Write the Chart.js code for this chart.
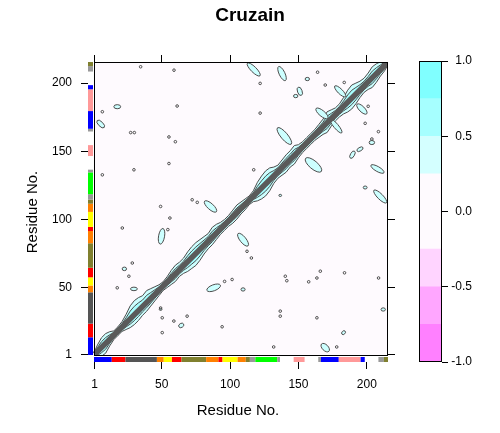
<!DOCTYPE html>
<html><head><meta charset="utf-8">
<script src="https://cdn.jsdelivr.net/npm/chart.js@4.4.1/dist/chart.umd.min.js"></script>
<style>
html,body{margin:0;padding:0;background:#fff;}
#wrap{position:relative;width:500px;height:433px;}
#wrap canvas{position:absolute;left:0;top:0;}
</style></head><body>
<div id="wrap"><canvas id="main" width="500" height="433"></canvas><canvas id="key" width="500" height="433"></canvas></div>
<script>
// ---------------- data ----------------
const chartTitle = 'Cruzain';
const axisTitle = 'Residue No.';
const nResidues = 215;
const tickLabels = [1, 50, 100, 150, 200];

// colour key (correlation bands)
const keyEdges = [-1, -0.75, -0.5, -0.25, 0.25, 0.5, 0.75, 1];
const keyTicks = [-1, -0.5, 0, 0.5, 1];

// sequence annotation segments (residue ranges)
const segStart = [1, 14, 24, 47, 52, 58, 65, 83, 92, 95, 106, 112, 115, 119, 135, 147, 165, 167, 180, 196, 209, 213];
const segEnd   = [13, 23, 46, 51, 57, 64, 82, 91, 94, 105, 111, 114, 118, 134, 136, 154, 166, 179, 195, 198, 212, 215];
const segClass = ['blue','red','dark','orange','yellow','red','olive','orange','red','yellow','orange','olive','grey','green','grey','pink','grey','blue','pink','blue','grey','olive'];

// correlated band along the diagonal: residue, extent above / below (residues)
const diagPos = [1,3,6,9,12,15,18,21,24,27,30,33,36,39,42,45,48,51,54,57,60,63,66,69,72,75,78,81,84,87,90,93,96,99,102,105,108,111,114,117,120,123,126,129,132,135,138,141,144,147,150,153,156,159,162,165,168,171,174,177,180,183,186,189,192,195,198,201,204,207,210,213,215];
const diagUp  = [2.4,4.8,7.2,7.2,5.6,3.2,3.2,4,6.4,9.6,10.4,9.6,8,8.8,7.2,5.6,4,3.2,4,5.6,6.4,5.6,5.6,7.2,8,8,7.2,6.4,5.6,7.2,6.4,4.8,4,4,4.8,5.6,4.8,4,3.2,4,7.2,8.8,9.6,8.8,6.4,4.8,5.6,6.4,6.4,7.2,4.8,4,4,4,4,4.8,5.6,8,6.4,4.8,4.8,6.4,8.8,9.6,8,6.4,5.6,6.4,8,7.2,5.6,4,2.4];
const diagLo  = [2.4,4.8,6.4,7.2,4.8,3.2,3.2,3.2,4.8,6.4,7.2,7.2,6.4,6.4,5.6,4.8,4,3.2,4,4.8,5.6,4.8,5.6,7.2,8,8.8,8,6.4,5.6,5.6,4.8,4,4,4,4.8,4.8,4,4,3.2,4,6.4,8,8.8,8,5.6,4.8,5.6,6.4,5.6,6.4,4.8,4,4,4,4,4.8,5.6,7.2,5.6,4.8,4.8,5.6,7.2,8,7.2,5.6,4.8,5.6,7.2,6.4,4.8,4,2.4];

// off-diagonal correlated patches: residue i, residue j, half-length, half-width (residues), orientation (deg)
const blobI   = [117.3, 138, 151, 148, 156.5, 180.5, 196.4, 167.2, 177.5, 139.7, 161, 209.8, 207.8, 189.5, 195, 203.7, 85.7, 49.9, 109.5, 88, 109.5, 22.7, 29.7, 64.3, 169.6, 183, 212, 5.4, 17.5, 198.8, 136.7, 49.2];
const blobJ   = [210, 207, 194, 190.5, 203, 194, 181, 177.8, 168.5, 161.2, 140, 116.8, 137, 147.5, 151.5, 156.4, 109.5, 87.6, 85.1, 49.8, 48.6, 63.7, 49, 22.2, 5.9, 16.9, 33.9, 170, 182.7, 123.4, 117.6, 34];
const blobLen = [6.5, 5.7, 3.2, 1.6, 1.6, 5.5, 5, 5.6, 6.5, 7.8, 7.5, 6.5, 5.5, 3, 2.5, 2, 5.8, 5.8, 5.8, 5.3, 1.5, 1.6, 2.5, 2, 3.8, 1.6, 1.6, 3.6, 2.5, 1.4, 1, 1];
const blobWid = [2.0, 2.1, 1.7, 1.2, 1.2, 1.8, 2.0, 2.1, 1.7, 2.5, 3.0, 2.0, 1.8, 1.5, 1.3, 1.5, 2.2, 2.2, 2.2, 2.2, 1.2, 1.3, 1.3, 1.5, 2.2, 1.2, 1.2, 1.7, 1.5, 1.1, 0.8, 0.8];
const blobAng = [-45, -64, -70, 0, 0, -45, -45, -40, -50, -50, -40, -45, -30, 60, 30, 0, -42, 80, -51, 21, 0, 0, 0, 30, -45, 45, 0, -45, 0, 0, 0, 0];

// small isolated contour specks (residue i, residue j)
const speckI = [34.6, 59, 61.3, 6.6, 27.3, 30, 55.3, 60, 55.3, 29.7, 6.6, 117.3, 122, 164, 169.6, 183.5, 201, 198.8, 208.5, 203.7, 72.3, 76, 49.2, 56, 21.2, 54.5, 112.4, 115.6, 28.5, 26, 17.5, 101.5, 96, 140.4, 141.5, 157.5, 163.5, 166, 183.7, 208.6, 136.7, 136.7, 163.5, 49.2, 50.4, 68.6, 58.9, 94.2, 50.4, 131.9, 178, 122];
const speckJ = [212, 209.5, 183.2, 179, 163.7, 163.7, 160.5, 157, 141, 136.4, 132.7, 136.4, 199.8, 208, 198.6, 200.5, 183, 170.5, 164.4, 159, 114.4, 112.5, 109.5, 101, 93.7, 92.5, 76.6, 71.7, 68, 58.3, 49.8, 55.9, 54.5, 58.3, 55, 54.2, 57, 62, 60.8, 57, 32.7, 29, 27.8, 35, 27.8, 29, 25.4, 21.2, 16.9, 6.4, 6.4, 178];

// ---------------- styles ----------------
const FONT = "'Liberation Sans', Arial, Helvetica, sans-serif";
const keyColors = ['#FF80FF', '#FFA6FF', '#FFD4FF', '#FEFAFE', '#D4FFFF', '#A6FFFF', '#80FFFF'];
const segPalette = {blue:'#0000FF', red:'#FF0000', dark:'#555555', orange:'#FF8000', yellow:'#FFFF00', olive:'#80802F', grey:'#999999', green:'#00FF00', pink:'#FF9999'};
const bgColor = '#FEFAFE';
const lineColor = '#4D4D4D';
const fillLight = '#CCFFFF';
const fillMid = '#A6FFFF';

const lo = 0.5, hi = nResidues + 0.5;
const xMin = -3.89, yMin = -4.64;
const titleBox = 19 * 1.2 + 4.6 + 10;

const diagonalPoints = [{x: 1, y: 1}, {x: nResidues, y: nResidues}];
const speckPoints = speckI.map((v, k) => ({x: v, y: speckJ[k]}));

function setTicks(s) { s.ticks = tickLabels.map(v => ({value: v})); }

const dccmPlugin = {
  id: 'dccm',
  beforeDatasetsDraw(chart) {
    const {ctx} = chart, xs = chart.scales.x, ys = chart.scales.y;
    const L = xs.getPixelForValue(lo), R = xs.getPixelForValue(hi);
    const T = ys.getPixelForValue(hi), B = ys.getPixelForValue(lo);
    const sx = Math.abs(xs.getPixelForValue(1) - xs.getPixelForValue(0));
    const sy = Math.abs(ys.getPixelForValue(1) - ys.getPixelForValue(0));
    ctx.save();
    ctx.fillStyle = bgColor;
    ctx.fillRect(L, T, R - L, B - T);
    ctx.beginPath(); ctx.rect(L, T, R - L, B - T); ctx.clip();
    ctx.lineWidth = 1; ctx.strokeStyle = lineColor; ctx.lineJoin = 'round';
    const env = (k, fill) => {
      ctx.beginPath();
      diagPos.forEach((p, n) => {
        const X = xs.getPixelForValue(p), Y = ys.getPixelForValue(p + diagUp[n] * k);
        n ? ctx.lineTo(X, Y) : ctx.moveTo(X, Y);
      });
      for (let n = diagPos.length - 1; n >= 0; n--) {
        ctx.lineTo(xs.getPixelForValue(diagPos[n]), ys.getPixelForValue(diagPos[n] - diagLo[n] * k));
      }
      ctx.closePath();
      ctx.fillStyle = fill; ctx.fill(); ctx.stroke();
    };
    env(1, fillLight);
    env(0.6, fillMid);
    blobI.forEach((bi, k) => {
      const cx = xs.getPixelForValue(bi), cy = ys.getPixelForValue(blobJ[k]);
      ctx.beginPath();
      ctx.ellipse(cx, cy, blobLen[k] * sx, blobWid[k] * sy, -blobAng[k] * Math.PI / 180, 0, Math.PI * 2);
      ctx.fillStyle = fillLight; ctx.fill(); ctx.stroke();
    });
    ctx.restore();
  },
  afterDatasetsDraw(chart) {
    const {ctx, chartArea} = chart, xs = chart.scales.x, ys = chart.scales.y;
    const L = xs.getPixelForValue(lo), R = xs.getPixelForValue(hi);
    const T = ys.getPixelForValue(hi), B = ys.getPixelForValue(lo);
    ctx.save();
    segStart.forEach((s, k) => {
      ctx.fillStyle = segPalette[segClass[k]];
      const a = xs.getPixelForValue(s - 0.5), b = xs.getPixelForValue(segEnd[k] + 0.5);
      ctx.fillRect(a, B + 2, b - a, chartArea.bottom - B - 2);
      const c = ys.getPixelForValue(segEnd[k] + 0.5), d = ys.getPixelForValue(s - 0.5);
      ctx.fillRect(chartArea.left, c, L - chartArea.left - 1, d - c);
    });
    ctx.strokeStyle = '#000'; ctx.lineWidth = 1;
    ctx.strokeRect(Math.round(L) + 0.5, Math.round(T) + 0.5, Math.round(R - L) - 1, Math.round(B - T));
    ctx.restore();
  }
};

const tickFont = {family: FONT, size: 12};
const gridOpts = {drawOnChartArea: false, drawTicks: true, tickLength: 7, color: '#000', tickColor: '#000'};

new Chart(document.getElementById('main'), {
  type: 'scatter',
  data: {
    datasets: [
      {type: 'line', label: 'diagonal', data: diagonalPoints, borderColor: '#5A5A5A', borderWidth: 5.5, pointRadius: 0, fill: false, xAxisID: 'x', yAxisID: 'y'},
      {type: 'line', label: 'diagonal peak', data: diagonalPoints, borderColor: '#9EEAEA', borderWidth: 1, borderDash: [1, 3], pointRadius: 0, fill: false, xAxisID: 'x', yAxisID: 'y'},
      {label: 'specks', data: speckPoints, pointStyle: 'circle', pointRadius: 1.3, borderWidth: 1, borderColor: lineColor, backgroundColor: 'rgba(0,0,0,0)', xAxisID: 'x', yAxisID: 'y'}
    ]
  },
  options: {
    responsive: false, animation: false,
    layout: {padding: 0},
    plugins: {
      legend: {display: false}, tooltip: {enabled: false},
      title: {display: true, text: chartTitle, color: '#000', font: {family: FONT, size: 19, weight: 'bold'}, padding: {top: 4.6, bottom: 10}}
    },
    scales: {
      x: {type: 'linear', position: 'bottom', min: xMin, max: hi, afterBuildTicks: setTicks,
          ticks: {font: tickFont, color: '#000', padding: 8.3, maxRotation: 0, autoSkip: false, callback: v => String(v)},
          grid: gridOpts, border: {display: false},
          title: {display: true, text: axisTitle, color: '#000', font: {family: FONT, size: 15}, padding: {top: 0, bottom: 13.2}},
          afterFit: s => { s.height = 71; }},
      x2: {type: 'linear', position: 'top', min: xMin, max: hi, afterBuildTicks: setTicks,
          ticks: {display: false}, grid: gridOpts, border: {display: false},
          afterFit: s => { s.height = 62 - titleBox; }},
      y: {type: 'linear', position: 'left', min: yMin, max: hi, afterBuildTicks: setTicks,
          ticks: {font: tickFont, color: '#000', padding: 9, autoSkip: false, callback: v => String(v)},
          grid: gridOpts, border: {display: false},
          title: {display: true, text: axisTitle, color: '#000', font: {family: FONT, size: 15}, padding: {top: 23.5, bottom: 0}},
          afterFit: s => { s.width = 88; }},
      y2: {type: 'linear', position: 'right', min: yMin, max: hi, afterBuildTicks: setTicks,
          ticks: {display: false}, grid: gridOpts, border: {display: false},
          afterFit: s => { s.width = 112; }}
    }
  },
  plugins: [dccmPlugin]
});

const framePlugin = {
  id: 'frame',
  afterDatasetsDraw(chart) {
    const {ctx, chartArea: a} = chart;
    ctx.save(); ctx.strokeStyle = '#000'; ctx.lineWidth = 1;
    ctx.strokeRect(Math.round(a.left) + 0.5, Math.round(a.top) + 0.5, Math.round(a.right - a.left) - 1, Math.round(a.bottom - a.top) - 1);
    ctx.restore();
  }
};

new Chart(document.getElementById('key'), {
  type: 'bar',
  data: {
    labels: [''],
    datasets: keyColors.map((c, k) => ({data: [[keyEdges[k], keyEdges[k + 1]]], backgroundColor: c, borderWidth: 0, barPercentage: 1, categoryPercentage: 1, grouped: false}))
  },
  options: {
    responsive: false, animation: false,
    layout: {padding: {left: 419, top: 61, bottom: 71, right: 28}},
    plugins: {legend: {display: false}, tooltip: {enabled: false}, title: {display: false}},
    scales: {
      x: {display: false},
      y: {type: 'linear', position: 'right', min: -1, max: 1,
          afterBuildTicks: s => { s.ticks = keyTicks.map(v => ({value: v})); },
          ticks: {font: tickFont, color: '#000', padding: 2, crossAlign: 'far', callback: v => Number(v).toFixed(1)},
          grid: {drawOnChartArea: false, drawTicks: true, tickLength: 6, color: '#000'}, border: {display: false},
          afterFit: s => { s.width = 30; }}
    }
  },
  plugins: [framePlugin]
});
</script>
</body></html>
